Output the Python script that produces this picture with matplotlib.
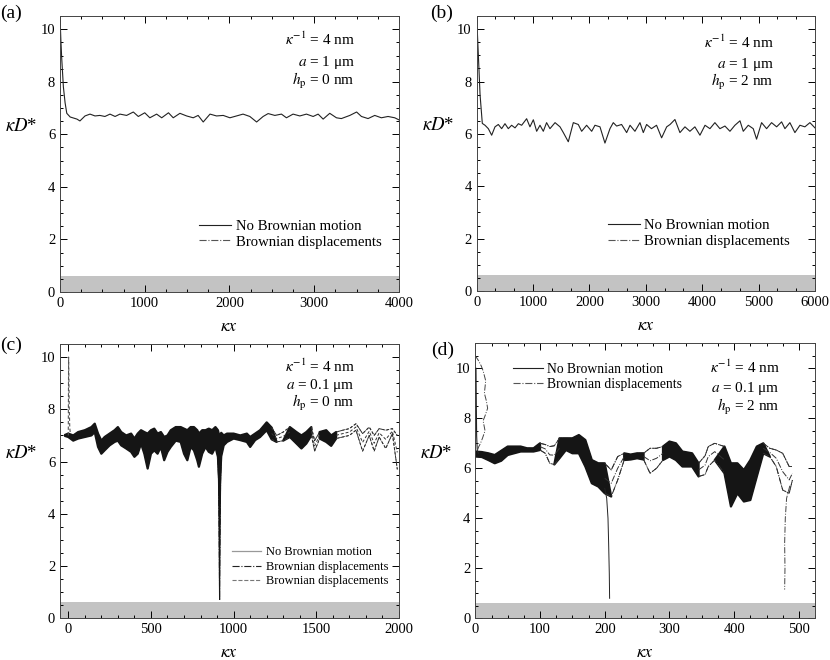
import numpy as np
import matplotlib
matplotlib.use("Agg")
import matplotlib.pyplot as plt
from matplotlib.lines import Line2D
from matplotlib.ticker import MultipleLocator

# ---- panel (a): a = 1 um, hp = 0 nm
a_x = [0, 10, 20, 40, 60, 80, 120, 200, 235, 295, 354, 413, 470, 530, 590, 650, 707,
       786, 865, 924, 1000, 1060, 1140, 1200, 1280, 1336, 1415, 1494, 1572, 1630, 1690,
       1770, 1847, 1926, 2005, 2083, 2160, 2240, 2320, 2397, 2456, 2535, 2613, 2672,
       2750, 2830, 2908, 2987, 3046, 3105, 3183, 3262, 3320, 3420, 3500, 3557, 3635,
       3714, 3792, 3871, 3950, 4000]
a_y = [10.5, 9.6, 8.9, 7.8, 7.2, 6.8, 6.66, 6.58, 6.51, 6.7, 6.77, 6.7, 6.72, 6.68,
       6.77, 6.68, 6.77, 6.72, 6.85, 6.68, 6.82, 6.63, 6.77, 6.63, 6.82, 6.63, 6.8, 6.7,
       6.63, 6.72, 6.47, 6.77, 6.7, 6.72, 6.63, 6.7, 6.77, 6.68, 6.47, 6.68, 6.79, 6.72,
       6.77, 6.63, 6.77, 6.7, 6.77, 6.68, 6.77, 6.58, 6.8, 6.63, 6.6, 6.72, 6.85, 6.68,
       6.6, 6.72, 6.63, 6.68, 6.63, 6.55]

# ---- panel (b): a = 1 um, hp = 2 nm
b_x = [0, 30, 60, 100, 148, 207, 266, 325, 384, 443, 502, 561, 620, 680, 740, 798, 886,
       945, 1005, 1064, 1123, 1182, 1240, 1300, 1390, 1478, 1537, 1625, 1714, 1802, 1862,
       1950, 2040, 2098, 2187, 2275, 2364, 2423, 2482, 2570, 2660, 2720, 2807, 2896,
       2955, 3014, 3100, 3190, 3280, 3370, 3430, 3516, 3605, 3694, 3782, 3870, 3960,
       4050, 4137, 4225, 4314, 4403, 4492, 4580, 4670, 4728, 4817, 4905, 4964, 5053,
       5142, 5230, 5320, 5408, 5467, 5555, 5644, 5733, 5821, 5910, 6000]
b_y = [10.5, 9.0, 7.5, 6.4, 6.33, 6.2, 5.95, 6.27, 6.36, 6.2, 6.39, 6.2, 6.33, 6.23,
       6.39, 6.33, 6.58, 6.27, 6.54, 6.1, 6.33, 6.1, 6.43, 6.2, 6.43, 6.27, 6.05, 5.7,
       6.43, 6.36, 6.1, 6.33, 6.1, 6.33, 6.27, 5.65, 6.2, 6.43, 6.3, 6.36, 6.05, 6.33,
       6.1, 6.43, 6.05, 6.36, 6.2, 6.33, 5.85, 6.27, 6.36, 6.55, 6.05, 6.27, 6.1, 6.27,
       5.95, 6.33, 6.2, 6.43, 6.2, 6.3, 6.1, 6.33, 6.5, 6.1, 6.33, 6.2, 5.8, 6.43, 6.2,
       6.43, 6.27, 6.46, 6.2, 6.43, 6.05, 6.33, 6.27, 6.43, 6.23]

# ---- panel (c): a = 0.1 um, hp = 0 nm (envelope of the trajectory band)
c_x = [-20, 0, 30, 60, 100, 140, 160, 180, 200, 220, 250, 280, 300, 320, 350, 380, 400,
       420, 440, 460, 480, 500, 520, 540, 560, 580, 600, 620, 650, 680, 700, 720, 740,
       760, 780, 790, 810, 830, 850, 870, 890, 905, 915, 925, 940, 960, 1000, 1040, 1080,
       1100, 1130, 1160, 1200, 1230, 1260, 1300, 1340, 1380, 1410, 1440, 1470, 1490,
       1520, 1560, 1590, 1620, 1660, 1700, 1740, 1780, 1820, 1850, 1880, 1920, 1960, 1990]
c_hi = [7.02, 7.07, 7.0, 7.13, 7.2, 7.32, 7.45, 7.07, 6.8, 6.94, 7.07, 7.2, 7.32, 7.13,
        7.0, 7.07, 6.88, 7.07, 7.2, 7.13, 7.07, 7.2, 7.26, 7.07, 7.13, 6.94, 7.0, 7.2,
        7.32, 7.32, 7.26, 7.2, 7.32, 7.32, 7.2, 7.07, 7.2, 7.2, 7.26, 7.2, 7.32, 7.2,
        6.94, 7.1, 7.0, 7.07, 7.07, 7.0, 7.07, 6.94, 7.07, 7.2, 7.5, 7.3, 7.0, 7.13, 7.32,
        7.13, 7.0, 7.13, 7.32, 6.8, 7.13, 7.2, 7.0, 7.13, 7.2, 7.26, 7.45, 7.07, 7.32,
        7.0, 7.26, 7.2, 7.26, 7.0]
c_lo = [6.98, 6.94, 6.8, 6.88, 6.94, 7.0, 7.13, 6.56, 6.3, 6.43, 6.62, 6.75, 6.8, 6.62,
        6.5, 6.37, 6.18, 6.3, 6.69, 6.3, 5.73, 6.3, 6.43, 6.3, 6.56, 6.05, 6.37, 6.56,
        6.8, 6.75, 6.3, 6.05, 6.56, 6.43, 6.05, 5.8, 6.3, 6.56, 6.37, 6.3, 6.56, 6.18,
        5.0, 6.2, 6.62, 6.75, 6.88, 6.82, 6.75, 6.56, 6.82, 6.94, 7.2, 6.85, 6.75, 6.8,
        6.94, 6.69, 6.5, 6.69, 7.0, 6.4, 6.88, 6.75, 6.6, 6.88, 6.94, 7.0, 7.2, 6.4, 7.0,
        6.4, 6.94, 6.5, 7.07, 5.7]
c_spike_x = [904, 908, 911, 913, 915, 917, 919, 922, 926]
c_spike_y = [6.5, 5.5, 4.0, 2.5, 0.7, 2.5, 4.0, 5.5, 6.5]
c_start_x = [0, 2, 4, 6, 9, 12]
c_start_y = [7.0, 10.0, 9.0, 8.0, 7.3, 7.1]

# ---- panel (d): a = 0.1 um, hp = 2 nm
d_x = [0, 10, 20, 30, 40, 50, 60, 70, 80, 90, 100, 108, 115, 122, 130, 140, 150, 160,
       170, 180, 190, 200, 210, 220, 230, 240, 250, 260, 270, 280, 290, 300, 310, 320,
       335, 345, 355, 360, 370, 385, 395, 405, 415, 425, 435, 445, 455, 465, 475, 485, 490]
d_hi = [6.67, 6.65, 6.6, 6.53, 6.7, 6.87, 6.87, 6.87, 6.8, 6.8, 7.0, 6.95, 6.87, 6.9,
        7.2, 7.2, 7.2, 7.33, 7.13, 6.33, 6.2, 6.2, 5.93, 6.47, 6.6, 6.55, 6.6, 6.6, 6.8,
        6.8, 6.87, 7.07, 7.0, 6.67, 6.6, 6.2, 6.5, 6.87, 7.0, 6.87, 6.2, 6.2, 5.93, 6.33,
        6.87, 7.0, 6.8, 6.73, 6.6, 6.07, 6.07]
d_lo = [6.47, 6.45, 6.33, 6.2, 6.3, 6.53, 6.6, 6.67, 6.67, 6.67, 6.73, 6.6, 6.2, 6.15,
        6.4, 6.73, 6.6, 6.6, 6.07, 5.4, 5.27, 5.0, 4.87, 5.53, 6.33, 6.35, 6.4, 6.35, 5.8,
        6.0, 6.33, 6.47, 6.33, 6.07, 6.07, 5.67, 5.75, 6.07, 6.33, 5.8, 4.47, 5.0, 4.67,
        4.73, 5.67, 6.6, 6.47, 6.07, 5.13, 5.0, 5.53]
d_solid_start_x = [1, 1.5, 2, 3, 5]
d_solid_start_y = [10.0, 8.5, 7.3, 6.7, 6.6]
d_solid_drop_x = [200, 203, 205, 206, 207, 207.5]
d_solid_drop_y = [5.2, 4.8, 4.0, 3.0, 1.8, 0.8]
d_bd_start_x = [0, 5, 9, 12, 16, 14, 17, 19, 15, 12, 15, 11, 8, 5, 3]
d_bd_start_y = [10.5, 10.3, 10.1, 9.9, 9.5, 9.0, 8.7, 8.4, 8.1, 7.9, 7.5, 7.2, 7.0, 6.85, 6.7]
d_bd_drop_x = [486, 481, 479, 478, 478.5, 478]
d_bd_drop_y = [5.3, 4.8, 4.0, 3.0, 2.0, 1.15]

gap_top = 0.62

plt.rcParams['font.family'] = 'Liberation Serif'
plt.rcParams['mathtext.fontset'] = 'stix'

fig = plt.figure(figsize=(8.3, 6.6), dpi=100)
axa = fig.add_axes([0.0723, 0.5576, 0.4084, 0.418])
axb = fig.add_axes([0.5743, 0.559, 0.4076, 0.4167])
axc = fig.add_axes([0.0723, 0.0632, 0.4084, 0.4156])
axd = fig.add_axes([0.5727, 0.0632, 0.4093, 0.4167])


def style(ax, xlim, ylim, xmaj, xmin, tag, tagx, tagy):
    ax.set_xlim(*xlim)
    ax.set_ylim(*ylim)
    ax.xaxis.set_major_locator(MultipleLocator(xmaj))
    ax.xaxis.set_minor_locator(MultipleLocator(xmin))
    ax.yaxis.set_major_locator(MultipleLocator(2))
    ax.yaxis.set_minor_locator(MultipleLocator(0.5))
    ax.tick_params(which='both', direction='in', top=True, right=True, labelsize=10.5,
                   width=0.7)
    ax.tick_params(which='major', length=5)
    ax.tick_params(which='minor', length=2.5)
    for s in ax.spines.values():
        s.set_linewidth(0.7)
        s.set_color('#444444')
    ax.axhspan(0, gap_top, color='#c3c3c3', lw=0, zorder=0)
    ax.set_xlabel(r'$\kappa x$', fontsize=13, labelpad=6)
    ax.set_ylabel(r'$\kappa D$*', fontsize=13.5, rotation=0)
    ax.yaxis.set_label_coords(-0.115, 0.57)
    ax.text(tagx, tagy, tag, transform=ax.transAxes, fontsize=14, ha='center', va='center')


def params(ax, xr, ys, a_txt, h_txt, fs=11):
    ax.text(xr, ys[0], r'$\kappa^{-1}$ = 4 nm', transform=ax.transAxes, ha='right',
            va='center', fontsize=fs)
    ax.text(xr, ys[1], r'$a$ = ' + a_txt + ' μm', transform=ax.transAxes, ha='right',
            va='center', fontsize=fs)
    ax.text(xr, ys[2], r'$h_{\rm p}$ = ' + h_txt + ' nm', transform=ax.transAxes,
            ha='right', va='center', fontsize=fs)


line_col = '#222222'
bd_handle = Line2D([], [], color='#555555', lw=0.8, ls='-.')

# (a)
style(axa, (0, 4000), (0, 10.5), 1000, 250, '(a)', -0.145, 1.01)
la, = axa.plot(a_x, a_y, color=line_col, lw=0.8)
params(axa, 0.87, (0.917, 0.833, 0.764), '1', '0')
axa.legend([la, bd_handle], ['No Brownian motion', 'Brownian displacements'],
           loc='upper left', bbox_to_anchor=(0.41, 0.262), frameon=False, fontsize=10.6,
           handlelength=2.2, handletextpad=0.3, labelspacing=0.15, borderpad=0,
           borderaxespad=0)

# (b)
style(axb, (0, 6000), (0, 10.5), 1000, 1000 / 3, '(b)', -0.105, 1.01)
lb, = axb.plot(b_x, b_y, color=line_col, lw=0.8)
params(axb, 0.879, (0.905, 0.825, 0.76), '1', '2')
axb.legend([lb, bd_handle], ['No Brownian motion', 'Brownian displacements'],
           loc='upper left', bbox_to_anchor=(0.387, 0.262), frameon=False, fontsize=10.6,
           handlelength=2.2, handletextpad=0.3, labelspacing=0.15, borderpad=0,
           borderaxespad=0)


def band(ax, x, hi, lo, dense, sparse_ls, sparse_col):
    x = np.asarray(x, float)
    hi = np.asarray(hi)
    lo = np.asarray(lo)
    ax.fill_between(x, lo, hi, where=dense, color='#151515', lw=1.6, ec='#151515',
                    interpolate=True, zorder=2)
    sp = ~dense
    sp = sp | np.roll(sp, 1) | np.roll(sp, -1)
    mid = (hi + lo) / 2
    for arr in (hi, lo, mid):
        ax.plot(x, np.where(sp, arr, np.nan), color=sparse_col, lw=0.7, ls=sparse_ls,
                zorder=3)
    ax.plot(x, hi, color='#151515', lw=0.6, ls=sparse_ls, zorder=2)
    ax.plot(x, lo, color='#151515', lw=0.6, ls=sparse_ls, zorder=2)


# (c)
style(axc, (-50, 2000), (0, 10.5), 500, 100, '(c)', -0.145, 0.996)
cx = np.asarray(c_x, float)
c_dense = (cx <= 1230) | ((cx >= 1330) & (cx <= 1470)) | ((cx >= 1520) & (cx <= 1620))
band(axc, c_x, c_hi, c_lo, c_dense, (0, (3, 2)), '#333333')
axc.fill(c_spike_x, c_spike_y, color='#151515', lw=0.8, zorder=3)
axc.plot(c_spike_x, c_spike_y, color='#151515', lw=0.7, ls='-.', zorder=3)
axc.plot(c_start_x, c_start_y, color='#555555', lw=0.8, ls=(0, (3, 2)), zorder=3)
params(axc, 0.87, (0.917, 0.85, 0.785), '0.1', '0')
hc1 = Line2D([], [], color='#999999', lw=0.9)
hc2 = Line2D([], [], color='#222222', lw=0.8, ls='-.')
hc3 = Line2D([], [], color='#777777', lw=0.8, ls='--')
axc.legend([hc1, hc2, hc3],
           ['No Brownian motion', 'Brownian displacements', 'Brownian displacements'],
           loc='upper left', bbox_to_anchor=(0.506, 0.262), frameon=False, fontsize=8.9,
           handlelength=2.4, handletextpad=0.4, labelspacing=0.2, borderpad=0,
           borderaxespad=0)

# (d)
style(axd, (0, 525), (0, 11), 100, 25, '(d)', -0.095, 0.976)
dx = np.asarray(d_x, float)
d_dense = ((dx <= 100) | ((dx >= 130) & (dx <= 200)) | ((dx >= 225) & (dx <= 262))
           | ((dx >= 290) & (dx <= 350)) | ((dx >= 375) & (dx <= 450)))
band(axd, d_x, d_hi, d_lo, d_dense, '-.', '#333333')
hd1, = axd.plot(d_solid_start_x, d_solid_start_y, color=line_col, lw=0.8, zorder=3)
axd.plot(d_solid_drop_x, d_solid_drop_y, color=line_col, lw=0.7, zorder=3)
axd.plot(d_bd_start_x, d_bd_start_y, color='#444444', lw=0.7, ls='-.', zorder=3)
axd.plot(d_bd_drop_x, d_bd_drop_y, color='#444444', lw=0.7, ls='-.', zorder=3)
params(axd, 0.897, (0.911, 0.834, 0.768), '0.1', '2')
axd.legend([hd1, bd_handle], ['No Brownian motion', 'Brownian displacements'],
           loc='upper left', bbox_to_anchor=(0.111, 0.93), frameon=False, fontsize=9.8,
           handlelength=2.2, handletextpad=0.3, labelspacing=0.15, borderpad=0,
           borderaxespad=0)

fig.savefig('out.png', dpi=100)
